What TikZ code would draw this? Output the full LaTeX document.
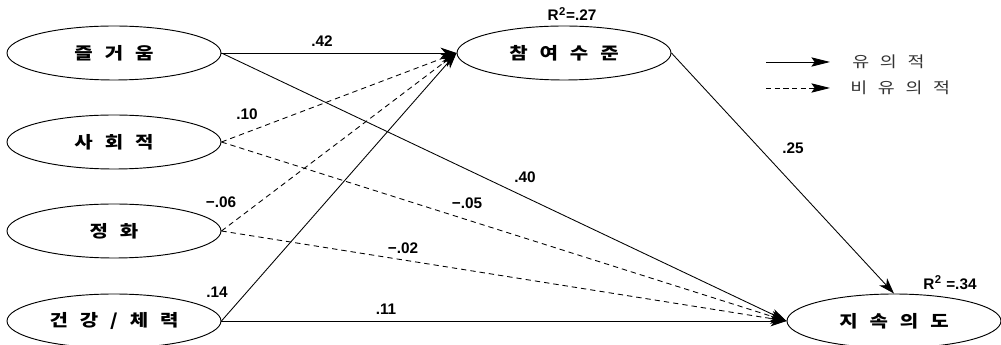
\documentclass[tikz,border=0pt]{standalone}
\usepackage{fontspec}
\setmainfont{Liberation Sans}
\newfontfamily\korfont[FakeStretch=1.2, WordSpace=2.6]{Noto Sans CJK KR}
\usetikzlibrary{arrows.meta,shapes.geometric}
\definecolor{legcol}{RGB}{50,50,50}
\newcommand{\rsq}{R\kern0.3pt\raisebox{0.38em}{\fontsize{8.5}{9}\selectfont 2}\kern0.6pt}
\tikzset{
  % latent variable
  latent/.style={ellipse, draw, line width=0.7pt, minimum width=160.5pt, minimum height=40.5pt,
                 inner sep=0pt, font=\korfont\bfseries\fontsize{12.5}{14}\selectfont},
  % significant path
  sigpath/.style={-{Stealth[length=12pt,width=8pt,inset=3.5pt]}, line width=0.65pt},
  % non-significant path
  nspath/.style={sigpath, dash pattern=on 4pt off 3pt},
  % coefficient label
  coef/.style={font=\bfseries\fontsize{11.5}{12}\selectfont, inner sep=1pt},
  % legend arrow
  legarrow/.style={-{Stealth[length=14pt,width=7pt,inset=2.5pt]}, line width=0.65pt},
  % legend text
  legtext/.style={anchor=west, inner sep=0pt, text=legcol, font=\korfont\fontsize{11.5}{13}\selectfont},
}
\begin{document}
\begin{tikzpicture}[x=0.75pt, y=-0.75pt]
  \useasboundingbox (0,0) rectangle (1001,345);
  % predictors
  \node[latent] (joy) at (114,53) {즐 거 움};
  \node[latent] (soc) at (114,142) {사 회 적};
  \node[latent] (pur) at (114,231) {정 화};
  \node[latent] (hea) at (114,321) {건 강 / 체 력};
  % mediator and outcome
  \node[latent] (par) at (564,53) {참 여 수 준};
  \node[latent] (int) at (894,321) {지 속 의 도};

  % paths to par
  \draw[sigpath] (joy.east) -- (par.west);
  \draw[nspath] (soc.east) -- (par.west);
  \draw[nspath] (pur.east) -- (par.west);
  \draw[sigpath] (hea.east) -- (par.west);
  % paths to int
  \draw[sigpath] (joy.east) -- (int.west);
  \draw[nspath] (soc.east) -- (int.west);
  \draw[nspath] (pur.east) -- (int.west);
  \draw[sigpath] (hea.east) -- (int.west);
  \draw[sigpath] (par.east) -- (int.north);

  % coefficients
  \node[coef] (c42) at (322,41) {.42};
  \node[coef] (c10) at (247,114) {.10};
  \node[coef] (c06) at (221,202) {−.06};
  \node[coef] (c14) at (217,292) {.14};
  \node[coef] (c11) at (386,309) {.11};
  \node[coef] (c02) at (403,248) {−.02};
  \node[coef] (c05) at (467,203) {−.05};
  \node[coef] (c40) at (525,177) {.40};
  \node[coef] (c25) at (793,148) {.25};
  \node[coef] (r27) at (572,14) {\rsq=.27};
  \node[coef] (r34) at (950,283) {\rsq\ =.34};

  % legend
  \coordinate (ls1) at (766,62);
  \coordinate (le1) at (830,62);
  \coordinate (ls2) at (766,88);
  \coordinate (le2) at (830,88);
  \draw[legarrow] (ls1) -- (le1);
  \draw[legarrow, dash pattern=on 4pt off 2.5pt] (ls2) -- (le2);
  \node[legtext] (lt1) at (852,62) {유 의 적};
  \node[legtext] (lt2) at (850,88) {비 유 의 적};
\end{tikzpicture}
\end{document}
